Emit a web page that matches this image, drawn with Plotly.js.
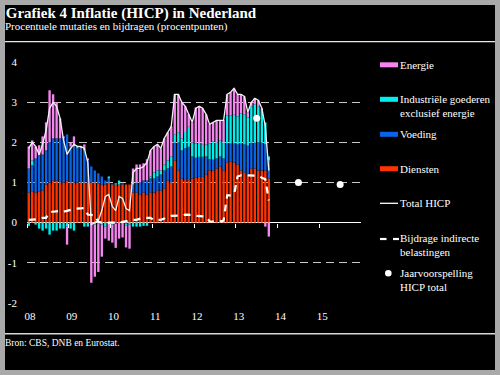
<!DOCTYPE html>
<html>
<head>
<meta charset="utf-8">
<script src="https://cdn.plot.ly/plotly-3.0.1.min.js"></script>
<style>
  html, body { margin: 0; padding: 0; background: #a9a9a9; width: 500px; height: 375px; overflow: hidden; }
  #chart { position: absolute; left: 5px; top: 5px; width: 490px; height: 365px; background: #000; }
</style>
</head>
<body>
<div id="chart"></div>
<script>
// ---- Data (monthly, Jan 2008 - Oct 2013) ----
const months = [
  '2008-01','2008-02','2008-03','2008-04','2008-05','2008-06','2008-07','2008-08','2008-09','2008-10','2008-11','2008-12',
  '2009-01','2009-02','2009-03','2009-04','2009-05','2009-06','2009-07','2009-08','2009-09','2009-10','2009-11','2009-12',
  '2010-01','2010-02','2010-03','2010-04','2010-05','2010-06','2010-07','2010-08','2010-09','2010-10','2010-11','2010-12',
  '2011-01','2011-02','2011-03','2011-04','2011-05','2011-06','2011-07','2011-08','2011-09','2011-10','2011-11','2011-12',
  '2012-01','2012-02','2012-03','2012-04','2012-05','2012-06','2012-07','2012-08','2012-09','2012-10','2012-11','2012-12',
  '2013-01','2013-02','2013-03','2013-04','2013-05','2013-06','2013-07','2013-08','2013-09','2013-10'
];

// Contribution of services (Diensten)
const diensten = [
  0.75,0.78,0.75,0.78,0.80,0.95,1.00,1.05,1.05,1.00,1.00,1.05,
  1.00,1.00,1.00,1.00,1.00,1.00,1.00,1.00,0.98,0.95,0.95,1.00,
  0.95,0.95,0.95,0.95,0.95,0.95,0.75,0.75,0.70,0.75,0.70,0.75,
  0.75,0.80,0.80,0.85,1.05,1.00,1.55,1.30,1.10,1.06,1.06,1.10,
  1.12,1.14,1.14,1.20,1.30,1.30,1.35,1.40,1.30,1.50,1.52,1.50,
  1.45,1.30,1.25,1.20,1.35,1.35,1.30,1.30,1.30,1.10
];
// Contribution of food (Voeding)
const voeding = [
  0.60,0.65,0.85,0.90,0.90,0.85,1.00,1.05,1.05,1.10,1.10,1.15,
  0.90,0.90,0.85,0.85,0.80,0.55,0.40,0.30,0.25,0.20,0.10,0.10,
  0.02,-0.03,0.00,0.03,-0.02,0.00,0.20,0.25,0.30,0.30,0.35,0.35,
  0.35,0.35,0.40,0.45,0.30,0.40,0.45,0.70,0.70,0.80,0.83,0.55,
  0.50,0.50,0.50,0.45,0.28,0.27,0.25,0.25,0.30,0.47,0.45,0.47,
  0.50,0.67,0.70,0.72,0.65,0.65,0.70,0.70,0.65,0.45
];
// Contribution of non-energy industrial goods
const industrie = [
  -0.08,0.12,-0.05,-0.15,-0.20,-0.15,-0.30,-0.20,-0.20,-0.15,-0.15,-0.10,
  -0.15,-0.20,0.05,0.00,-0.10,-0.10,0.00,-0.05,-0.03,-0.05,-0.10,0.05,
  -0.05,0.03,0.10,0.00,-0.05,-0.05,-0.10,-0.10,-0.10,-0.08,-0.08,0.05,
  0.15,0.15,0.10,0.15,0.20,0.25,0.20,0.25,0.30,0.40,0.50,0.35,
  0.35,0.35,0.30,0.30,0.40,0.45,0.40,0.40,0.40,0.70,0.70,0.72,
  0.70,0.75,0.75,0.70,0.90,0.95,0.90,0.80,0.55,0.10
];
// Contribution of energy (Energie)
const energie = [
  0.55,0.50,0.30,0.25,0.45,0.70,1.30,1.10,0.90,0.50,0.05,-0.45,
  0.10,0.25,0.00,0.05,0.15,0.05,-1.50,-1.30,-1.20,-0.80,-0.30,-0.45,
  -0.45,-0.60,-0.40,-0.37,-0.55,-0.60,0.40,0.45,0.45,0.43,0.53,0.65,
  0.65,0.65,0.55,0.65,0.70,0.75,1.00,0.95,0.90,0.64,0.31,0.50,
  0.90,0.90,0.90,0.75,0.47,0.48,0.55,0.50,0.55,0.53,0.58,0.66,
  0.55,0.48,0.45,0.13,0.10,0.15,0.15,0.05,-0.10,-0.35
];
// Total HICP (y/y %)
const totalHICP = [
  1.85,2.00,1.90,1.70,1.95,2.30,2.85,3.00,2.90,2.60,2.05,1.70,
  1.85,1.95,1.90,1.90,1.85,1.50,-0.05,0.00,0.05,0.30,0.65,0.70,
  0.40,0.30,0.65,0.60,0.35,0.30,1.25,1.35,1.35,1.40,1.50,1.80,
  1.90,1.95,1.85,2.10,2.25,2.40,3.20,3.20,3.00,2.90,2.70,2.50,
  2.85,2.90,2.85,2.70,2.45,2.50,2.55,2.55,2.55,3.20,3.25,3.35,
  3.20,3.20,3.15,2.75,3.00,3.10,3.05,2.85,2.40,1.30
];
// Contribution of indirect taxes
const indirecteBelastingen = [
  0.07,0.07,0.08,0.10,0.12,0.12,0.27,0.27,0.28,0.29,0.27,0.30,
  0.32,0.34,0.35,0.36,0.36,0.20,0.19,0.18,0.02,0.00,0.00,0.00,
  0.00,0.00,0.00,0.02,0.03,0.05,0.07,0.07,0.10,0.12,0.12,0.12,
  0.06,0.06,0.07,0.10,0.15,0.17,0.17,0.17,0.18,0.20,0.20,0.19,
  0.17,0.16,0.15,0.15,0.03,0.02,0.02,0.03,0.05,0.68,0.68,0.70,
  1.15,1.18,1.18,1.18,1.17,1.17,1.17,1.12,1.08,0.55
];
// Annual HICP forecasts
const forecastYears = ['2013','2014','2015'];
const forecastHICP = [2.6, 1.0, 0.95];

// Axis ticks
const yearTicks = ['2008-01-01','2009-01-01','2010-01-01','2011-01-01','2012-01-01','2013-01-01','2014-01-01','2015-01-01'];
const yearLabels = ['08','09','10','11','12','13','14','15'];
const yTickVals = [-2,-1,0,1,2,3,4];
const yTickText = ['-2','-1','0','1','2','3','4'];

const serif = 'Liberation Serif, Times New Roman, serif';
const barCommon = {type:'bar', x: months, xperiod:'M1', xperiodalignment:'middle', showlegend:false};

const traces = [
  Object.assign({}, barCommon, {name:'Diensten', y: diensten, marker:{color:'#ff3300', line:{width:0}}}),
  Object.assign({}, barCommon, {name:'Voeding', y: voeding, marker:{color:'#0a64e8', line:{width:0}}}),
  Object.assign({}, barCommon, {name:'Industriële goederen exclusief energie', y: industrie, marker:{color:'#00f0f0', line:{width:0}}}),
  Object.assign({}, barCommon, {name:'Energie', y: energie, marker:{color:'#f586f0', line:{width:0}}}),
  {type:'scatter', mode:'lines', name:'Total HICP', x: months, y: totalHICP, xperiod:'M1', xperiodalignment:'middle',
   line:{color:'#f2f2f2', width:1.3}, showlegend:false},
  {type:'scatter', mode:'lines', name:'Bijdrage indirecte belastingen', x: months, y: indirecteBelastingen, xaxis:'x2',
   xperiod:'M1', xperiodalignment:'middle', line:{color:'#ffffff', width:2.2, dash:'7px,6px'}, showlegend:false},
  {type:'scatter', mode:'markers', name:'Jaarvoorspelling HICP total', x: forecastYears, y: forecastHICP,
   xperiod:'M12', xperiodalignment:'middle', marker:{color:'#ffffff', size:7}, showlegend:false}
];

// legend helpers (page -> paper coords)
const L = 27, R = 361, T = 62, B = 303;
const px = X => (X - L) / (R - L);
const py = Y => (B - Y) / (B - T);

const shapes = [
  {type:'line', xref:'paper', yref:'paper', x0:px(5), x1:px(495), y0:py(41.7), y1:py(41.7), line:{color:'#e8e8e8', width:1.2}},
  {type:'line', xref:'paper', yref:'paper', x0:px(5), x1:px(495), y0:py(333.7), y1:py(333.7), line:{color:'#d8d8d8', width:1.5}},
  // legend swatches
  {type:'rect', xref:'paper', yref:'paper', x0:px(380), x1:px(398), y0:py(67.3), y1:py(62.3), fillcolor:'#f586f0', line:{width:0}},
  {type:'rect', xref:'paper', yref:'paper', x0:px(380), x1:px(398), y0:py(101.8), y1:py(96.8), fillcolor:'#00f0f0', line:{width:0}},
  {type:'rect', xref:'paper', yref:'paper', x0:px(380), x1:px(398), y0:py(136.8), y1:py(131.8), fillcolor:'#0a64e8', line:{width:0}},
  {type:'rect', xref:'paper', yref:'paper', x0:px(380), x1:px(398), y0:py(171.2), y1:py(166.2), fillcolor:'#ff3300', line:{width:0}},
  {type:'line', xref:'paper', yref:'paper', x0:px(380), x1:px(398), y0:py(203.3), y1:py(203.3), line:{color:'#ffffff', width:1.3}},
  {type:'line', xref:'paper', yref:'paper', x0:px(380), x1:px(386.5), y0:py(239), y1:py(239), line:{color:'#ffffff', width:2.2}},
  {type:'line', xref:'paper', yref:'paper', x0:px(393), x1:px(399), y0:py(239), y1:py(239), line:{color:'#ffffff', width:2.2}},
  {type:'circle', xref:'paper', yref:'paper', x0:px(385), x1:px(391.6), y0:py(276.6), y1:py(270), fillcolor:'#ffffff', line:{width:0}}
];

const txt = (text, X, Y, size, extra) => Object.assign({
  text: text, xref:'paper', yref:'paper', x: px(X), y: py(Y), xanchor:'left', yanchor:'middle',
  showarrow:false, align:'left', font:{family: serif, size: size, color:'#ffffff'}, borderpad:0
}, extra || {});

const annotations = [
  txt('Procentuele mutaties en bijdragen (procentpunten)', 3.5, 26.5, 11),
  txt('Bron: CBS, DNB en Eurostat.', 3.5, 342.7, 9.5),
  txt('Energie', 399, 65, 11),
  txt('Industriële goederen<br>exclusief energie', 399, 105.5, 11),
  txt('Voeding', 399, 134.3, 11),
  txt('Diensten', 399, 168.7, 11),
  txt('Total HICP', 399, 203.3, 11),
  txt('Bijdrage indirecte<br>belastingen', 399, 245, 11),
  txt('Jaarvoorspelling<br>HICP total', 399, 280, 11)
];

const layout = {
  width: 490, height: 365,
  paper_bgcolor:'#000000', plot_bgcolor:'#000000',
  margin:{l:22, r:134, t:57, b:67},
  barmode:'relative', bargap:0.3,
  showlegend:false,
  title:{text:'Grafiek 4 Inflatie (HICP) in Nederland', font:{family: serif, size:15, color:'#ffffff', weight:'bold'},
         xref:'container', x:0.0015, xanchor:'left', yref:'container', y:0.994, yanchor:'top', pad:{t:0,l:0}},
  xaxis:{type:'date', range:['2008-01-01','2016-01-01'], tickvals: yearTicks, ticktext: yearLabels,
         showgrid:false, zeroline:false, showline:false, ticks:'', ticklabelshift:3, ticklabelstandoff:5,
         tickfont:{family: serif, size:11, color:'#ffffff'}, fixedrange:true},
  xaxis2:{type:'date', overlaying:'x', anchor:'free', position: 2.005/6.01, side:'bottom',
          range:['2008-01-01','2016-01-01'], tickvals: yearTicks, showticklabels:false,
          ticks:'outside', ticklen:4, tickwidth:1, tickcolor:'#ffffff', showgrid:false, zeroline:false, showline:false},
  yaxis:{range:[-2.005, 4.005], tickvals: yTickVals, ticktext: yTickText, showgrid:true,
         gridcolor:'#c8c8c8', gridwidth:1.5, griddash:'8px,5px', zeroline:true, zerolinecolor:'#ffffff', zerolinewidth:1.5,
         showline:false, ticks:'', ticklabelstandoff:9, tickfont:{family: serif, size:11, color:'#ffffff'}},
  shapes: shapes,
  annotations: annotations
};

Plotly.newPlot('chart', traces, layout, {staticPlot:true, displayModeBar:false});
</script>
</body>
</html>
